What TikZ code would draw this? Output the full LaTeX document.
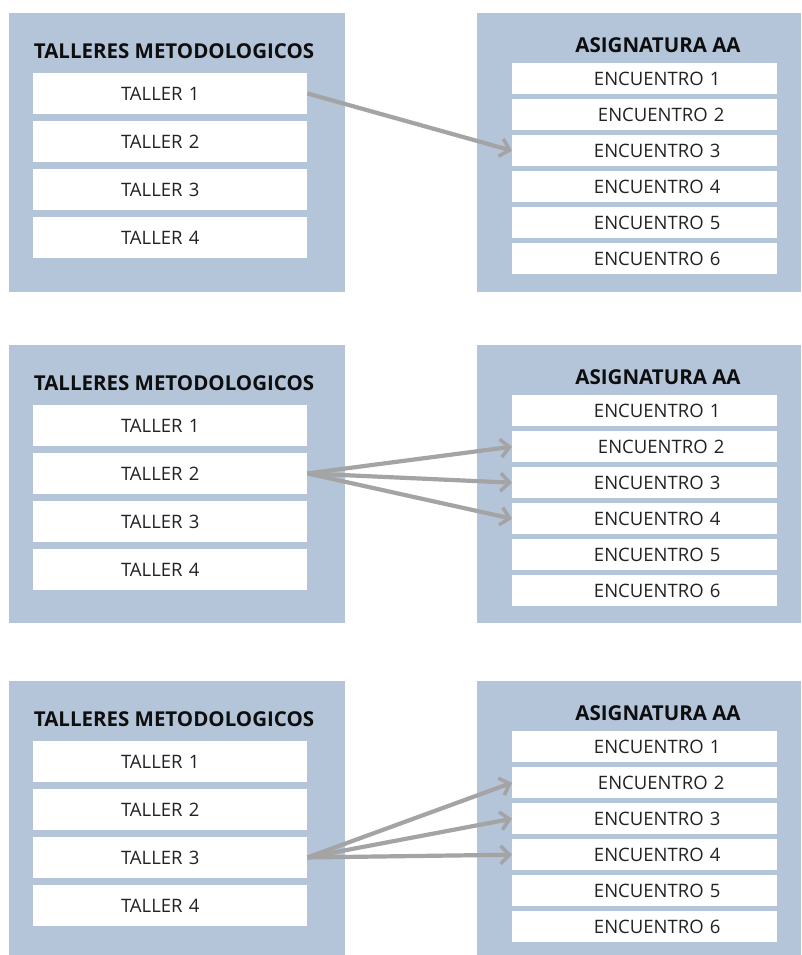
\documentclass[tikz,border=0pt]{standalone}
\usepackage{fontspec}
\setmainfont{Open Sans}
\usetikzlibrary{arrows.meta}
\definecolor{panelblue}{HTML}{B4C5DA}
\definecolor{arrowgray}{HTML}{A4A4A4}
\definecolor{txt}{HTML}{222222}
\definecolor{ttl}{HTML}{0E0E0E}
\tikzset{
  tbox/.style={fill=white, draw=none, anchor=north west, inner sep=0pt,
    minimum height=40.5pt, text width=274pt, align=center, text=txt,
    font=\fontsize{18.5}{21}\selectfont},
  ebox/.style={fill=white, draw=none, anchor=north west, inner sep=0pt,
    minimum height=31pt, text width=265pt, align=center, text=txt,
    font=\fontsize{18.5}{21}\selectfont},
  ttlnode/.style={text=ttl, inner sep=0pt, font=\bfseries\fontsize{20.5}{23}\selectfont},
  arr/.style={draw=arrowgray, line width=4.2pt,
    -{Straight Barb[length=9pt,width=18pt,line width=3.5pt]}}
}
\newcommand\mypanel[3]{%
  \fill[panelblue] (9,{13+#1}) rectangle (345,#3);
  \fill[panelblue] (477,{13+#1}) rectangle (801,#3);
  \node[ttlnode] (tt#2) at (174,{51+#1}) {TALLERES METODOLOGICOS};
  \node[ttlnode] (at#2) at (658,{45+#1}) {ASIGNATURA AA};
  \foreach \i in {1,...,4}
    \node[tbox] (t\i#2) at (33,{73+48*(\i-1)+#1}) {\hspace*{-20pt}TALLER \i};
  \foreach \i/\s in {1/25,2/33,3/25,4/25,5/25,6/25}
    \node[ebox] (e\i#2) at (512,{63+36*(\i-1)+#1}) {\hspace*{\s pt}ENCUENTRO \i};
}
\begin{document}
\begin{tikzpicture}[x=1pt,y=-1pt]
  \useasboundingbox (0,0) rectangle (801,955);
  \fill[white] (0,0) rectangle (801,955);
  \mypanel{0}{a}{292}
  \mypanel{332}{b}{623}
  \mypanel{668}{c}{955}
  \draw[arr] (t1a.east) -- (e3a.west);
  \draw[arr] (t2b.east) -- (e2b.west);
  \draw[arr] (t2b.east) -- (e3b.west);
  \draw[arr] (t2b.east) -- (e4b.west);
  \draw[arr] (t3c.east) -- (e2c.west);
  \draw[arr] (t3c.east) -- (e3c.west);
  \draw[arr] (t3c.east) -- (e4c.west);
\end{tikzpicture}
\end{document}
